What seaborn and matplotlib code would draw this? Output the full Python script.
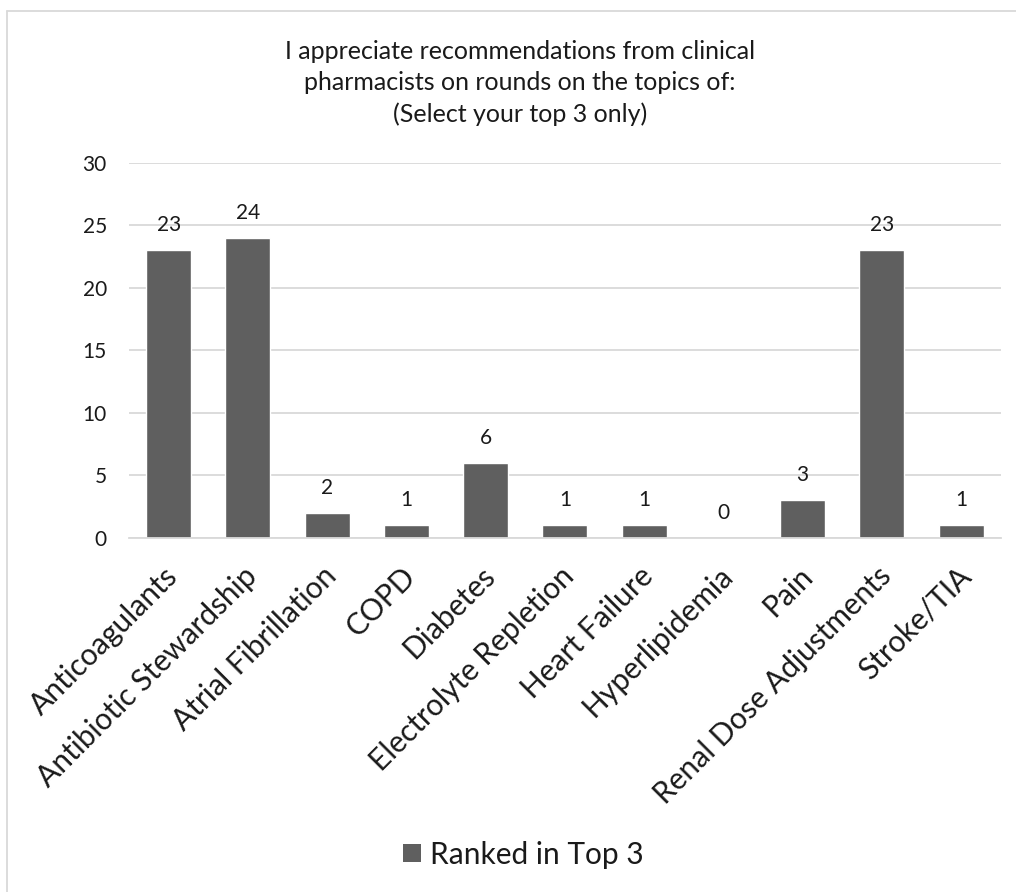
import matplotlib
matplotlib.use("Agg")
import matplotlib.pyplot as plt
import matplotlib.transforms as mtransforms
import seaborn as sns
import pandas as pd
from matplotlib.patches import Patch
from matplotlib.lines import Line2D

categories = ["Anticoagulants", "Antibiotic Stewardship", "Atrial Fibrillation", "COPD",
              "Diabetes", "Electrolyte Repletion", "Heart Failure", "Hyperlipidemia",
              "Pain", "Renal Dose Adjustments", "Stroke/TIA"]
values = [23, 24, 2, 1, 6, 1, 1, 0, 3, 23, 1]
series_name = "Ranked in Top 3"
title = "I appreciate recommendations from clinical\npharmacists on rounds on the topics of:\n(Select your top 3 only)"
yticks = [0, 5, 10, 15, 20, 25, 30]

sns.set_theme(style="white")
plt.rcParams['font.family'] = ['Lato', 'DejaVu Sans']

df = pd.DataFrame({"cat": categories, "val": values})

fig = plt.figure(figsize=(10.16, 8.92), dpi=100)
ax = fig.add_axes([0.127, 0.3969, 0.858, 0.4204])
bar_color = "#5f5f5f"
sns.barplot(data=df, x="cat", y="val", color=bar_color, width=0.57, ax=ax, saturation=1)

text_color = "#1a1a1a"
ax.set_ylim(0, 30)
ax.set_yticks(yticks)
ax.set_yticklabels([str(t) for t in yticks], fontsize=15, color=text_color)
ax.yaxis.grid(True, color="#d9d9d9", linewidth=1.3)
ax.set_axisbelow(True)
for s in ["top", "right", "left"]:
    ax.spines[s].set_visible(False)
ax.spines["bottom"].set_color("#d9d9d9")
ax.spines["bottom"].set_linewidth(1.3)
ax.tick_params(axis="y", length=0, pad=16)
ax.set_xlabel("")
ax.set_ylabel("")
ax.set_xticks(range(len(categories)))
ax.set_xticklabels(categories, rotation=45, ha="right", rotation_mode="anchor",
                   fontsize=21.5, color=text_color)
ax.tick_params(axis="x", length=0, pad=17)
offset = mtransforms.ScaledTranslation(-5 / 100, 0, fig.dpi_scale_trans)
for lab in ax.get_xticklabels():
    lab.set_transform(lab.get_transform() + offset)

for i, v in enumerate(values):
    ax.annotate(str(v), (i, v), xytext=(0, 11), textcoords="offset points",
                ha="center", va="bottom", fontsize=15, color=text_color)

fig.text(0.512, 0.955, title, ha="center", va="top", fontsize=18, color=text_color,
         linespacing=1.42)

handles = [Patch(facecolor=bar_color, edgecolor="none")]
fig.legend(handles, [series_name], loc="center", bbox_to_anchor=(0.515, 0.042),
           frameon=False, fontsize=21.5, handlelength=0.6, handleheight=0.6,
           handletextpad=0.3, labelcolor=text_color)

# chart-area border (only top and left edges visible in this crop)
fig.add_artist(Line2D([0.007, 1.0], [0.988, 0.988], transform=fig.transFigure,
                      color="#d9d9d9", linewidth=1.3))
fig.add_artist(Line2D([0.007, 0.007], [0.0, 0.988], transform=fig.transFigure,
                      color="#d9d9d9", linewidth=1.3))

fig.savefig("out.png", dpi=100, facecolor="white")
